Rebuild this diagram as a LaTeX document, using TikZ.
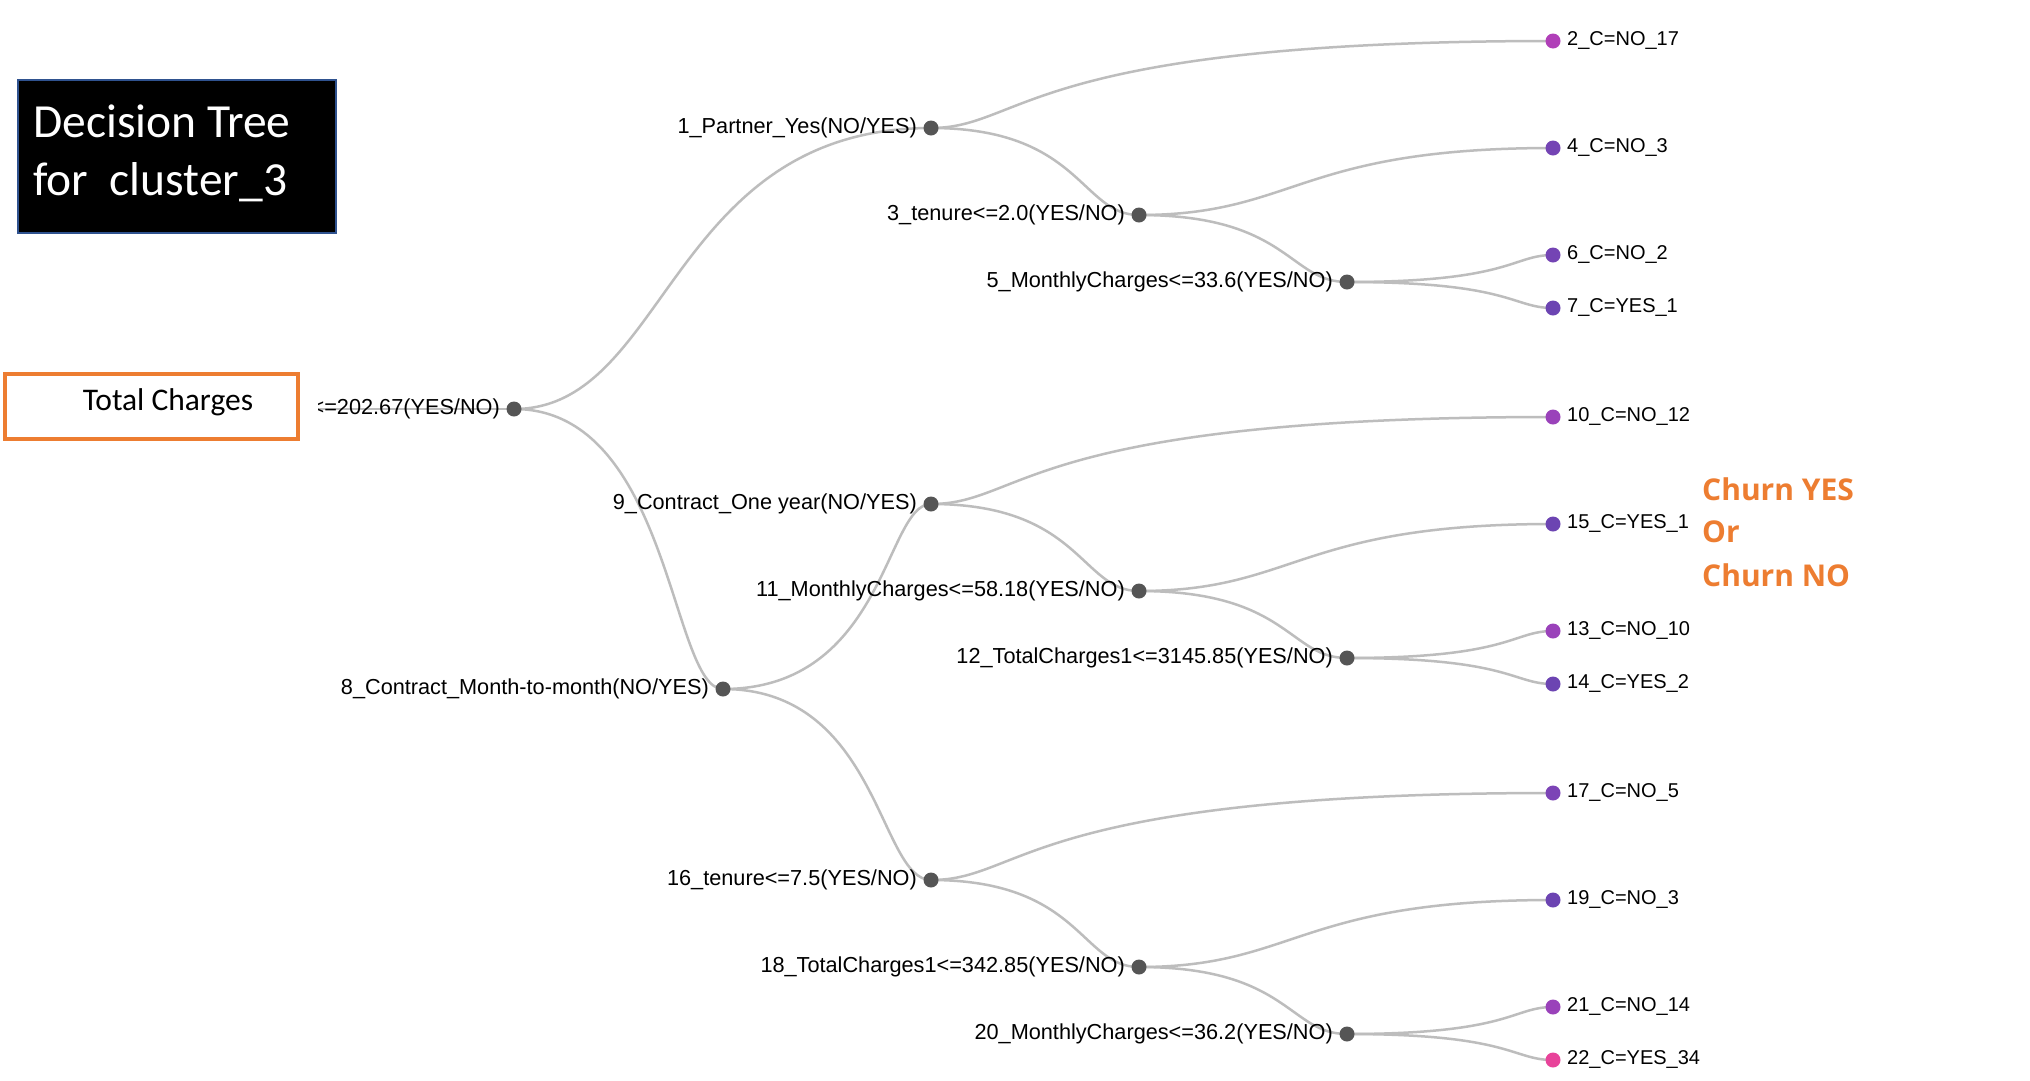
\documentclass[tikz,border=0pt]{standalone}
\usepackage{fontspec}
\setmainfont{Liberation Sans}
\newfontfamily\calibfont{Carlito}
\newfontfamily\churnfont{Open Sans}
\usetikzlibrary{calc}
\pgfdeclarelayer{bglayer}
\pgfsetlayers{bglayer,main}
\definecolor{linkgray}{HTML}{BDBDBD}
\definecolor{dotgray}{HTML}{555555}
\definecolor{boxorange}{HTML}{ED7D31}
\definecolor{boxblue}{HTML}{2F528F}
\definecolor{cA}{HTML}{B03FB8}
\definecolor{cB}{HTML}{7444B4}
\definecolor{cC}{HTML}{6C44B2}
\definecolor{cD}{HTML}{9A42BA}
\definecolor{cE}{HTML}{7C44B6}
\definecolor{cF}{HTML}{E8439A}
\newcommand\treelink[3]{%
  \begin{pgfonlayer}{bglayer}
  \draw[treeedge] let \p1=(#1.center), \p2=(#2.center), \n1={\x1+#3*(\x2-\x1)} in
    (\p1) .. controls (\n1,\y1) and (\n1,\y2) .. (\p2);
  \end{pgfonlayer}}
\begin{document}
\begin{tikzpicture}[x=1pt,y=-1pt,
  idot/.style={circle, fill=dotgray, minimum size=15pt, inner sep=0pt},
  ldot/.style={circle, fill=#1, minimum size=15pt, inner sep=0pt},
  inlab/.style={anchor=base east, font=\fontsize{21.7}{26}\selectfont, inner sep=0pt},
  lflab/.style={anchor=base west, font=\fontsize{20}{24}\selectfont, inner sep=0pt},
  treeedge/.style={draw=linkgray, line width=2.5pt},
  churn/.style={anchor=base west, inner sep=0pt, text=boxorange, font=\churnfont\bfseries\fontsize{30}{36}\selectfont}]
\useasboundingbox (0,0) rectangle (2030,1080);
\begin{pgfonlayer}{bglayer}
\fill[white] (0,0) rectangle (2030,1080);
\end{pgfonlayer}

% internal nodes
\node[idot] (n0) at (514,409) {};
\node[idot] (n1) at (931,128) {};
\node[idot] (n3) at (1139,215) {};
\node[idot] (n5) at (1347,282) {};
\node[idot] (n8) at (723,689) {};
\node[idot] (n9) at (931,504) {};
\node[idot] (n11) at (1139,591) {};
\node[idot] (n12) at (1347,658) {};
\node[idot] (n16) at (931,880) {};
\node[idot] (n18) at (1139,967) {};
\node[idot] (n20) at (1347,1034) {};

% leaves
\node[ldot=cA] (l2) at (1553,41) {};
\node[ldot=cB] (l4) at (1553,148) {};
\node[ldot=cB] (l6) at (1553,255) {};
\node[ldot=cC] (l7) at (1553,308) {};
\node[ldot=cD] (l10) at (1553,417) {};
\node[ldot=cC] (l15) at (1553,524) {};
\node[ldot=cD] (l13) at (1553,631) {};
\node[ldot=cC] (l14) at (1553,684) {};
\node[ldot=cE] (l17) at (1553,793) {};
\node[ldot=cC] (l19) at (1553,900) {};
\node[ldot=cD] (l21) at (1553,1007) {};
\node[ldot=cF] (l22) at (1553,1060) {};

% links
\treelink{n0}{n1}{0.37}
\treelink{n0}{n8}{0.75}
\treelink{n1}{l2}{0.15}
\treelink{n1}{n3}{0.72}
\treelink{n3}{l4}{0.38}
\treelink{n3}{n5}{0.72}
\treelink{n5}{l6}{0.8}
\treelink{n5}{l7}{0.8}
\treelink{n8}{n9}{0.78}
\treelink{n8}{n16}{0.75}
\treelink{n9}{l10}{0.15}
\treelink{n9}{n11}{0.72}
\treelink{n11}{l15}{0.38}
\treelink{n11}{n12}{0.72}
\treelink{n12}{l13}{0.8}
\treelink{n12}{l14}{0.8}
\treelink{n16}{l17}{0.15}
\treelink{n16}{n18}{0.72}
\treelink{n18}{l19}{0.38}
\treelink{n18}{n20}{0.72}
\treelink{n20}{l21}{0.8}
\treelink{n20}{l22}{0.8}
\coordinate (rootin) at (300,409);
\begin{pgfonlayer}{bglayer}
\draw[treeedge] (rootin) -- (n0.center);
\end{pgfonlayer}

% internal labels
\node[inlab] (t0) at ([shift={(-14pt,-5pt)}]n0.center) {<=202.67(YES/NO)};
\node[inlab] (t1) at ([shift={(-14pt,-5pt)}]n1.center) {1\_Partner\_Yes(NO/YES)};
\node[inlab] (t3) at ([shift={(-14pt,-5pt)}]n3.center) {3\_tenure<=2.0(YES/NO)};
\node[inlab] (t5) at ([shift={(-14pt,-5pt)}]n5.center) {5\_MonthlyCharges<=33.6(YES/NO)};
\node[inlab] (t8) at ([shift={(-14pt,-5pt)}]n8.center) {8\_Contract\_Month-to-month(NO/YES)};
\node[inlab] (t9) at ([shift={(-14pt,-5pt)}]n9.center) {9\_Contract\_One year(NO/YES)};
\node[inlab] (t11) at ([shift={(-14pt,-5pt)}]n11.center) {11\_MonthlyCharges<=58.18(YES/NO)};
\node[inlab] (t12) at ([shift={(-14pt,-5pt)}]n12.center) {12\_TotalCharges1<=3145.85(YES/NO)};
\node[inlab] (t16) at ([shift={(-14pt,-5pt)}]n16.center) {16\_tenure<=7.5(YES/NO)};
\node[inlab] (t18) at ([shift={(-14pt,-5pt)}]n18.center) {18\_TotalCharges1<=342.85(YES/NO)};
\node[inlab] (t20) at ([shift={(-14pt,-5pt)}]n20.center) {20\_MonthlyCharges<=36.2(YES/NO)};

% leaf labels
\node[lflab] (u2) at ([shift={(14pt,-4.9pt)}]l2.center) {2\_C=NO\_17};
\node[lflab] (u4) at ([shift={(14pt,-4.9pt)}]l4.center) {4\_C=NO\_3};
\node[lflab] (u6) at ([shift={(14pt,-4.9pt)}]l6.center) {6\_C=NO\_2};
\node[lflab] (u7) at ([shift={(14pt,-4.9pt)}]l7.center) {7\_C=YES\_1};
\node[lflab] (u10) at ([shift={(14pt,-4.9pt)}]l10.center) {10\_C=NO\_12};
\node[lflab] (u15) at ([shift={(14pt,-4.9pt)}]l15.center) {15\_C=YES\_1};
\node[lflab] (u13) at ([shift={(14pt,-4.9pt)}]l13.center) {13\_C=NO\_10};
\node[lflab] (u14) at ([shift={(14pt,-4.9pt)}]l14.center) {14\_C=YES\_2};
\node[lflab] (u17) at ([shift={(14pt,-4.9pt)}]l17.center) {17\_C=NO\_5};
\node[lflab] (u19) at ([shift={(14pt,-4.9pt)}]l19.center) {19\_C=NO\_3};
\node[lflab] (u21) at ([shift={(14pt,-4.9pt)}]l21.center) {21\_C=NO\_14};
\node[lflab] (u22) at ([shift={(14pt,-4.9pt)}]l22.center) {22\_C=YES\_34};

% white mask cutting the start of the root label
\fill[white] (300,392) rectangle (318,428);

% Total Charges box
\node[draw=boxorange, line width=4pt, fill=white, minimum width=293pt, minimum height=65pt, inner sep=0pt] (tcbox) at (151.5,406.5) {};
\node[anchor=base, inner sep=0pt, font=\calibfont\fontsize{31.5}{38}\selectfont] (tctext) at (168,410) {Total Charges};

% title box
\node[draw=boxblue, line width=2pt, fill=black, minimum width=318pt, minimum height=153pt, inner sep=0pt] (titlebox) at (177,156.5) {};
\node[anchor=base west, inner sep=0pt, text=white, font=\calibfont\fontsize{47.5}{56}\selectfont] (ttl1) at (33,137) {Decision Tree};
\node[anchor=base west, inner sep=0pt, text=white, font=\calibfont\fontsize{47.5}{56}\selectfont] (ttl2) at (33,195) {for\ \ cluster\_3};

% churn legend
\node[churn] (ch1) at (1702,500) {Churn YES};
\node[churn] (ch2) at (1702,542) {Or};
\node[churn] (ch3) at (1702,586) {Churn NO};
\end{tikzpicture}
\end{document}
